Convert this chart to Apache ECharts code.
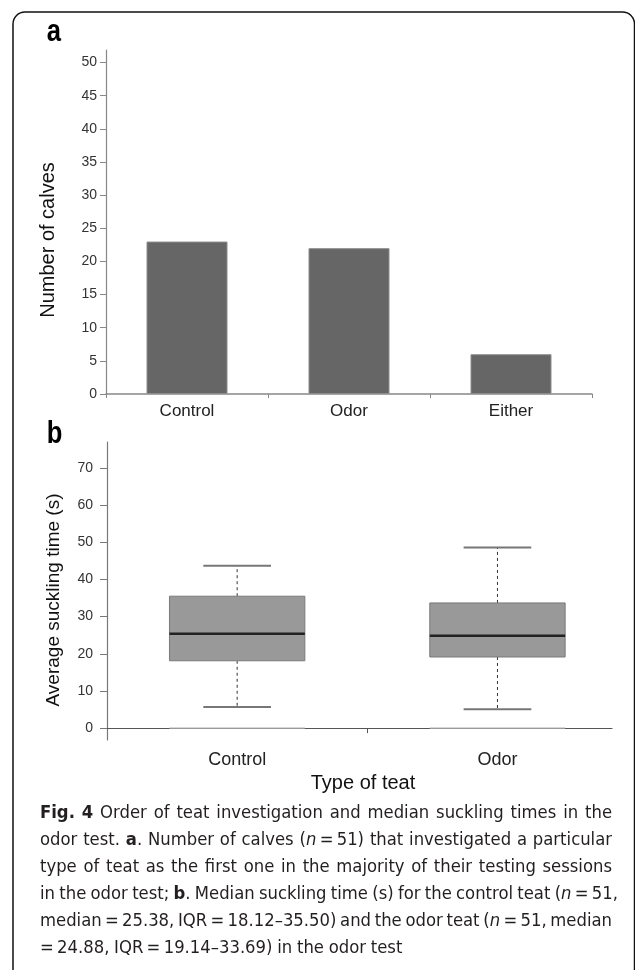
<!DOCTYPE html>
<html><head><meta charset="utf-8">
<script src="https://cdn.jsdelivr.net/npm/echarts@6/dist/echarts.min.js"></script>
<style>html,body{margin:0;padding:0;background:#fff}#c{width:635px;height:970px}</style>
</head><body><div id="c"></div>
<script>
// ---- data ----
const categoriesA = ['Control', 'Odor', 'Either'];
const countsA = [23, 22, 6];
const yTicksA = [0, 5, 10, 15, 20, 25, 30, 35, 40, 45, 50];

const categoriesB = ['Control', 'Odor'];
// [lower whisker, Q1, median, Q3, upper whisker]
const controlBox = [5.7, 18.12, 25.38, 35.50, 43.7];
const odorBox = [5.1, 19.14, 24.88, 33.69, 48.6];
const yTicksB = [0, 10, 20, 30, 40, 50, 60, 70];

const T = '\u2009';
const EQ = T + '=' + T;
const captionLines = [
  '{b|Fig.} {b|4} Order of teat investigation and median suckling times in the',
  'odor test. {b|a}. Number of calves ({i|n}' + EQ + '51) that investigated a particular',
  'type of teat as the first one in the majority of their testing sessions',
  'in the odor test; {b|b}. Median suckling time (s) for the control teat ({i|n}' + EQ + '51,',
  'median' + EQ + '25.38, IQR' + EQ + '18.12\u201335.50) and the odor teat ({i|n}' + EQ + '51, median',
  '=' + T + '24.88, IQR' + EQ + '19.14\u201333.69) in the odor test'
];
const captionTargets = [572, 572, 572, 578, 572, null];

// ---- caption font + justification ----
function pickFont(cands) {
  const c = document.createElement('canvas').getContext('2d');
  const t = 'abcdefghijklmnopqrstuvwxyz ABCDEFG 0123456789';
  for (const f of cands) {
    c.font = '40px "' + f + '", monospace'; const a = c.measureText(t).width;
    c.font = '40px "' + f + '", serif'; const b = c.measureText(t).width;
    if (Math.abs(a - b) < 0.01) return f;
  }
  return 'Lato';
}
const capFont = pickFont(['Liberation Sans Narrow', 'DejaVu Sans Condensed', 'Lato']);
const ctx = document.createElement('canvas').getContext('2d');
function measureRich(s, size) {
  let w = 0;
  const re = /\{(b|i)\|([^}]*)\}|([^{]+)/g;
  let m;
  while ((m = re.exec(s))) {
    if (m[3] !== undefined) { ctx.font = size + 'px "' + capFont + '"'; w += ctx.measureText(m[3]).width; }
    else if (m[1] === 'b') { ctx.font = 'bold ' + size + 'px "' + capFont + '"'; w += ctx.measureText(m[2]).width; }
    else { ctx.font = 'italic ' + size + 'px "' + capFont + '"'; w += ctx.measureText(m[2]).width; }
  }
  return w;
}
const MINGAP = 0.2; // em
let capSize = 22;
captionLines.forEach((ln, i) => {
  if (!captionTargets[i]) return;
  const words = ln.split(' ');
  const sw = words.reduce((s, w) => s + measureRich(w, 100), 0) / 100;
  capSize = Math.min(capSize, captionTargets[i] / (sw + (words.length - 1) * MINGAP));
});
const capY = [813, 840, 867, 894, 921, 948];

const FF = '"Liberation Sans", Arial, sans-serif';
const richStyles = {
  b: { fontWeight: 'bold', fontSize: capSize, fontFamily: capFont, fill: '#231f20' },
  i: { fontStyle: 'italic', fontSize: capSize, fontFamily: capFont, fill: '#231f20' }
};

const graphics = [
  { type: 'rect', shape: { x: 13, y: 12, width: 621.5, height: 1000, r: 12 },
    style: { fill: 'none', stroke: '#111', lineWidth: 1.5 }, z: 10 },
  { type: 'text', x: 39, y: 32, scaleX: 0.8, originX: 39,
    style: { text: 'a', font: 'bold 32px "Liberation Sans", Arial, sans-serif', fill: '#000', verticalAlign: 'middle' }, z: 10 },
  { type: 'text', x: 39, y: 434, scaleX: 0.8, originX: 39,
    style: { text: 'b', font: 'bold 32px "Liberation Sans", Arial, sans-serif', fill: '#000', verticalAlign: 'middle' }, z: 10 },
  { type: 'text', x: 48, y: 240, rotation: Math.PI / 2, z: 10,
    style: { text: 'Number of calves', font: '20px ' + FF, fill: '#111', align: 'center', verticalAlign: 'middle' } },
  { type: 'text', x: 54, y: 600, rotation: Math.PI / 2, z: 10,
    style: { text: 'Average suckling time (s)', font: '19px ' + FF, fill: '#111', align: 'center', verticalAlign: 'middle' } },
  { type: 'text', x: 363, y: 783, z: 10,
    style: { text: 'Type of teat', font: '20px ' + FF, fill: '#111', align: 'center', verticalAlign: 'middle' } }
];
captionLines.forEach((ln, i) => {
  const words = ln.split(' ');
  const widths = words.map(w => measureRich(w, capSize));
  const total = widths.reduce((a, b) => a + b, 0);
  const gap = captionTargets[i] ? (captionTargets[i] - total) / (words.length - 1) : capSize * 0.26;
  let x = 40;
  words.forEach((w, k) => {
    graphics.push({
      type: 'text', x: x, y: capY[i], z: 10,
      style: { text: w, fill: '#231f20', fontSize: capSize, fontFamily: capFont,
        verticalAlign: 'middle', align: 'left', rich: richStyles }
    });
    x += widths[k] + gap;
  });
});

const chart = echarts.init(document.getElementById('c'), null, { renderer: 'canvas' });
chart.setOption({
  animation: false,
  backgroundColor: '#fff',
  grid: [
    { left: 106, right: 43, top: 50, bottom: 576 },
    { left: 107, right: 23, top: 442, bottom: 230 }
  ],
  xAxis: [
    {
      type: 'category', gridIndex: 0, data: categoriesA,
      axisLine: { lineStyle: { color: '#888', width: 1.5 } },
      axisTick: { show: true, length: 4, lineStyle: { color: '#888' } },
      axisLabel: { color: '#222', fontSize: 17, margin: 9, fontFamily: FF },
      splitLine: { show: false }
    },
    {
      type: 'value', gridIndex: 1, min: 0.5, max: 2.44,
      axisLine: { onZero: true, lineStyle: { color: '#555', width: 1.2 } },
      axisTick: { show: true, length: 5, customValues: [1.5], lineStyle: { color: '#555' } },
      axisLabel: { customValues: [1, 2], formatter: v => categoriesB[Math.round(v) - 1],
        color: '#222', fontSize: 18, margin: 11, fontFamily: FF },
      splitLine: { show: false }
    }
  ],
  yAxis: [
    {
      type: 'value', gridIndex: 0, min: 0, max: 51.9,
      axisLine: { show: true, onZero: false, lineStyle: { color: '#888', width: 1.2 } },
      axisTick: { show: true, length: 6, customValues: yTicksA, lineStyle: { color: '#888' } },
      axisLabel: { customValues: yTicksA, color: '#333', fontSize: 14, margin: 9, fontFamily: FF },
      splitLine: { show: false }
    },
    {
      type: 'value', gridIndex: 1, min: -3.2, max: 77,
      axisLine: { show: true, onZero: false, lineStyle: { color: '#777', width: 1.2 } },
      axisTick: { show: true, length: 7, customValues: yTicksB, lineStyle: { color: '#777' } },
      axisLabel: { customValues: yTicksB, color: '#333', fontSize: 14, margin: 14, fontFamily: FF },
      splitLine: { show: false }
    }
  ],
  series: [
    {
      type: 'bar', xAxisIndex: 0, yAxisIndex: 0, data: countsA, barWidth: '50%',
      itemStyle: { color: '#666', borderColor: '#8c8c8c', borderWidth: 1 }
    },
    {
      type: 'custom', xAxisIndex: 1, yAxisIndex: 1,
      data: [[1].concat(controlBox), [2].concat(odorBox)],
      encode: { x: 0, y: [1, 2, 3, 4, 5] },
      renderItem: function (params, api) {
        const x = api.value(0);
        const lo = api.coord([x, api.value(1)]);
        const q1 = api.coord([x, api.value(2)]);
        const md = api.coord([x, api.value(3)]);
        const q3 = api.coord([x, api.value(4)]);
        const hi = api.coord([x, api.value(5)]);
        const z0 = api.coord([x, 0]);
        const unit = api.size([1, 0])[0];
        const bw = unit * 0.52, cw = bw / 2;
        const cx = lo[0];
        return {
          type: 'group',
          children: [
            { type: 'line', shape: { x1: cx - bw / 2, y1: z0[1], x2: cx + bw / 2, y2: z0[1] },
              style: { stroke: '#b0b0b0', lineWidth: 1.3 } },
            { type: 'line', shape: { x1: cx, y1: q3[1], x2: cx, y2: hi[1] },
              style: { stroke: '#333', lineWidth: 1, lineDash: [3, 3] } },
            { type: 'line', shape: { x1: cx, y1: q1[1], x2: cx, y2: lo[1] },
              style: { stroke: '#333', lineWidth: 1, lineDash: [3, 3] } },
            { type: 'line', shape: { x1: cx - cw / 2, y1: hi[1], x2: cx + cw / 2, y2: hi[1] },
              style: { stroke: '#777', lineWidth: 2 } },
            { type: 'line', shape: { x1: cx - cw / 2, y1: lo[1], x2: cx + cw / 2, y2: lo[1] },
              style: { stroke: '#777', lineWidth: 2 } },
            { type: 'rect', shape: { x: cx - bw / 2, y: q3[1], width: bw, height: q1[1] - q3[1] },
              style: { fill: '#999', stroke: '#7a7a7a', lineWidth: 1 } },
            { type: 'line', shape: { x1: cx - bw / 2, y1: md[1], x2: cx + bw / 2, y2: md[1] },
              style: { stroke: '#222', lineWidth: 2.5 } }
          ]
        };
      }
    }
  ],
  graphic: graphics
});
</script></body></html>
